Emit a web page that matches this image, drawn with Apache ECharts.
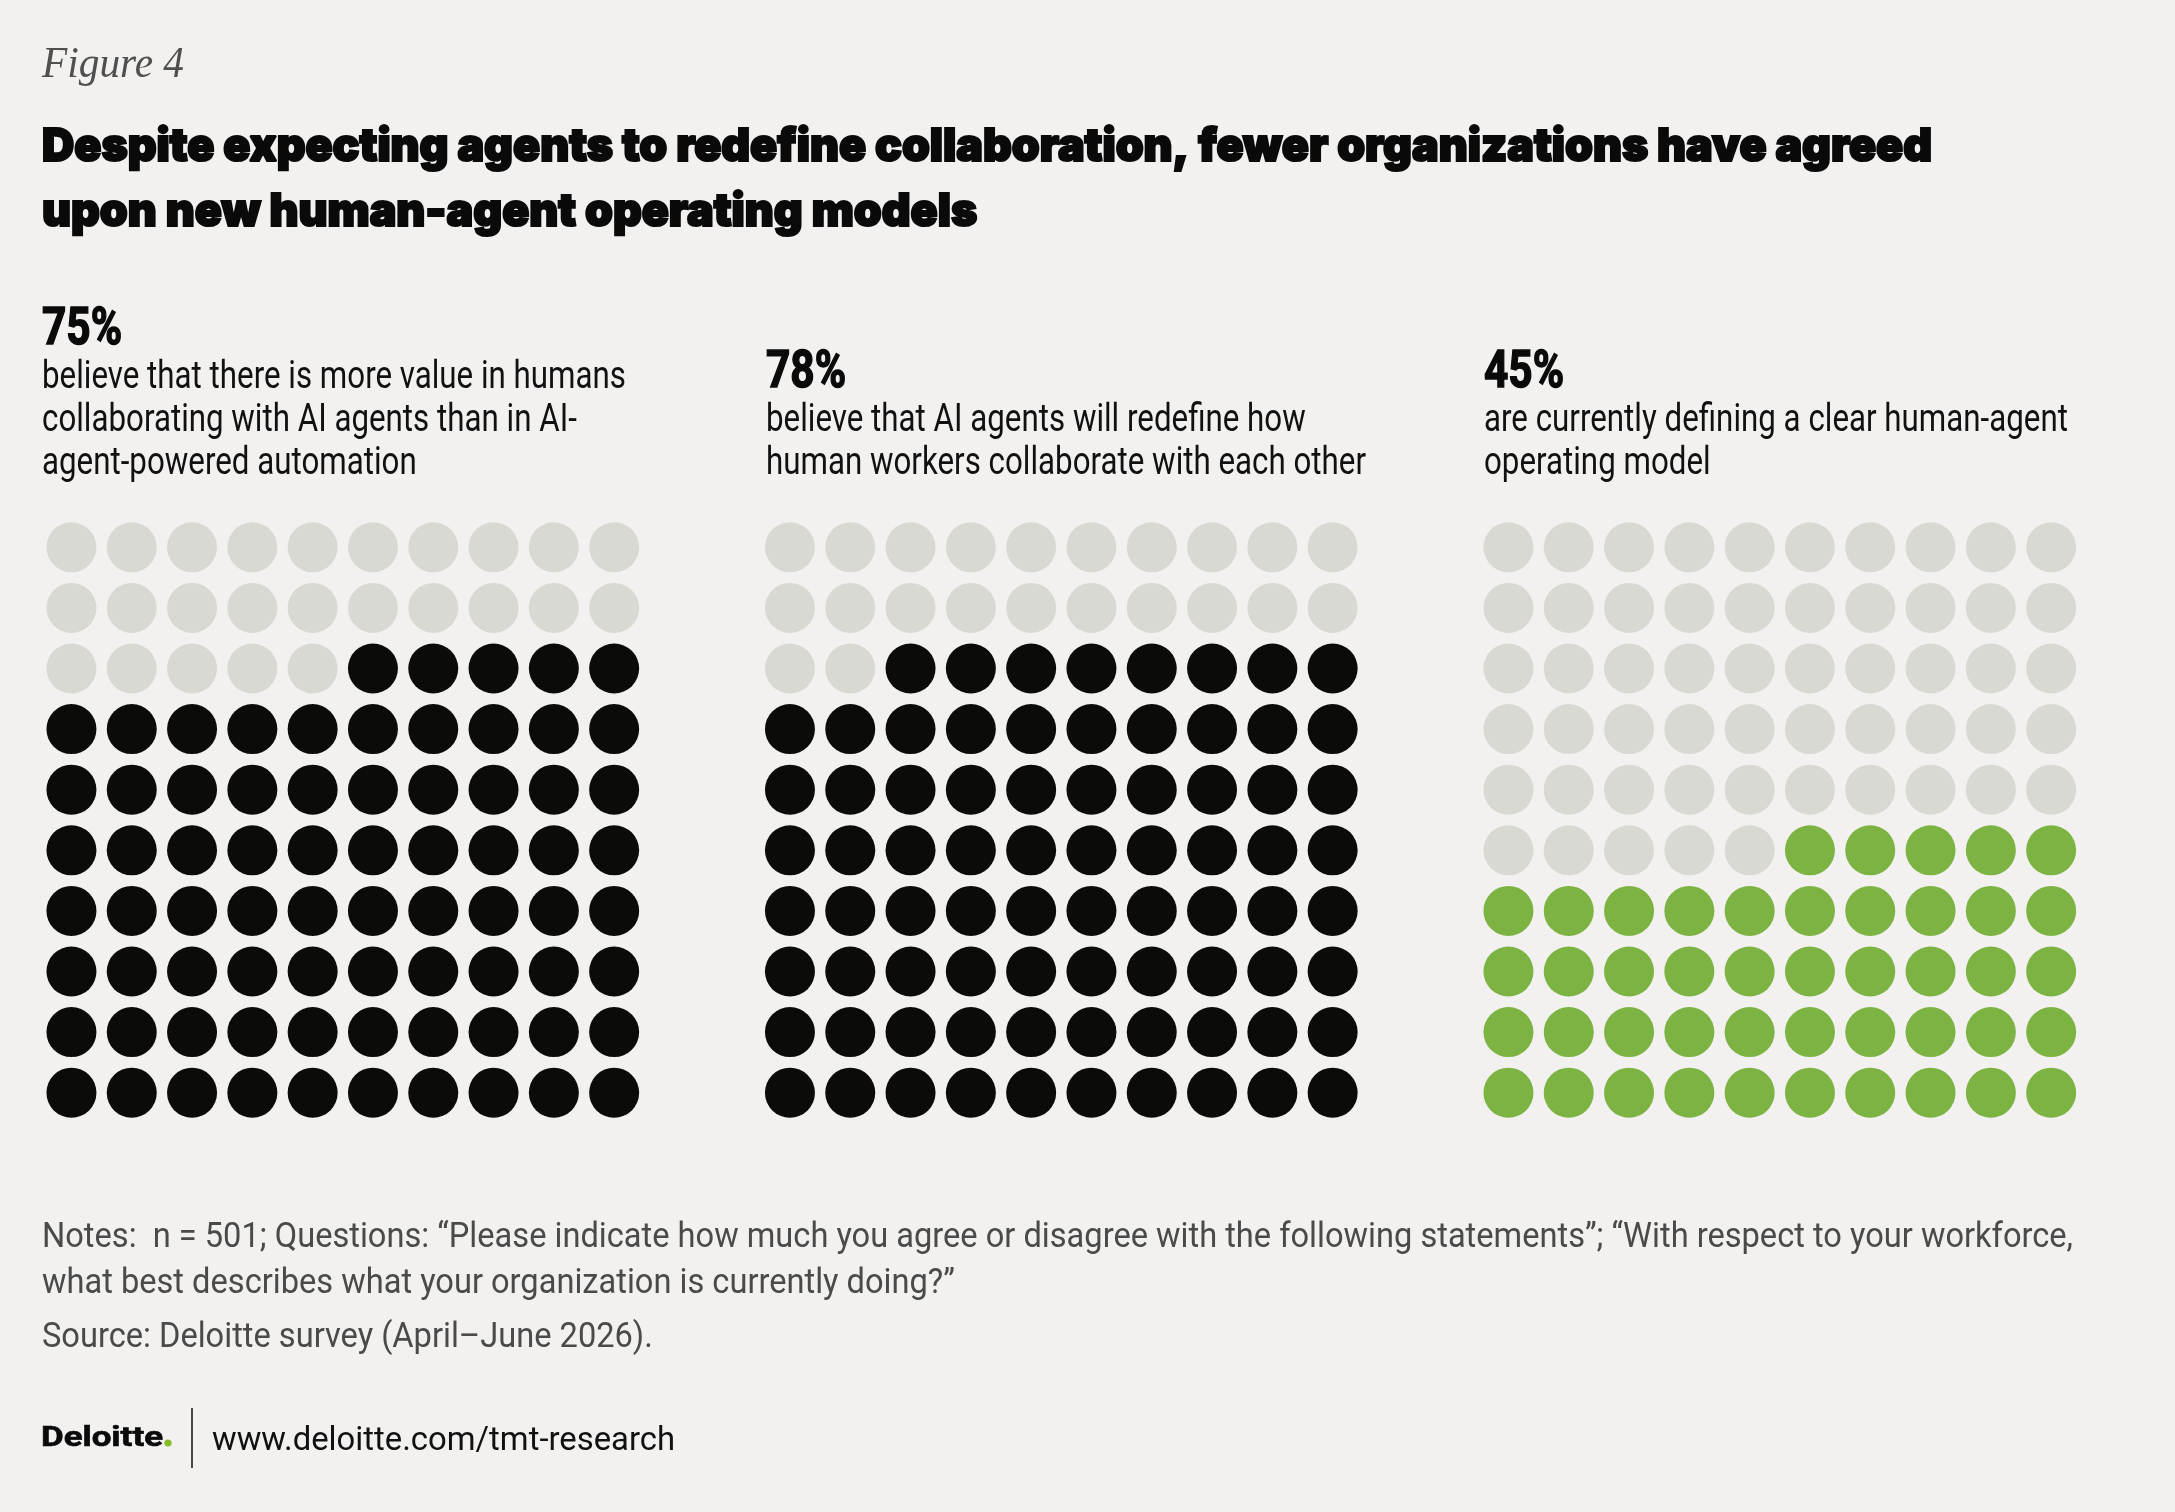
<!DOCTYPE html>
<html>
<head>
<meta charset="utf-8">
<title>Figure 4</title>
<script src="https://cdn.jsdelivr.net/npm/echarts@6.0.0/dist/echarts.min.js"></script>
<style>
  html, body { margin: 0; padding: 0; background: #f2f1ef; }
  #main { width: 2175px; height: 1512px; }
</style>
</head>
<body>
<div id="main"></div>
<script>
// ---- data ----
var percents = [75, 78, 45];
var descriptions = [
  ['believe that there is more value in humans', 'collaborating with AI agents than in AI-', 'agent-powered automation'],
  ['believe that AI agents will redefine how', 'human workers collaborate with each other'],
  ['are currently defining a clear human-agent', 'operating model']
];
var fillColors = ['#0b0b09', '#0b0b09', '#7cb342'];
var emptyColor = '#d9d9d4';
var figureLabel = 'Figure 4';
var titleLines = [
  'Despite expecting agents to redefine collaboration, fewer organizations have agreed',
  'upon new human-agent operating models'
];
var notesLines = [
  'Notes:  n = 501; Questions: \u201cPlease indicate how much you agree or disagree with the following statements\u201d; \u201cWith respect to your workforce,',
  'what best describes what your organization is currently doing?\u201d'
];
var sourceLine = 'Source: Deloitte survey (April\u2013June 2026).';
var logoText = 'Deloitte';
var footerUrl = 'www.deloitte.com/tmt-research';

// ---- text helpers (canvas measure so the condensed look can be matched with scaleX) ----
var ctx = document.createElement('canvas').getContext('2d');
function fitScale(font, text, width) {
  ctx.font = font;
  return width / ctx.measureText(text).width;
}
function midOffset(font) {
  ctx.font = font;
  ctx.textBaseline = 'middle';
  var m = ctx.measureText('H');
  ctx.textBaseline = 'alphabetic';
  return m.actualBoundingBoxDescent;
}
function txt(text, x, baseline, font, color, sx, heavy) {
  var st = { text: text, font: font, fill: color, align: 'left', verticalAlign: 'middle' };
  if (heavy) { st.stroke = color; st.lineWidth = heavy; }
  return { type: 'text', x: x, y: baseline - midOffset(font), scaleX: sx, silent: true, style: st };
}

var FIG_FONT = 'italic 44px "Liberation Serif", serif';
var TITLE_FONT = '900 46px Inter, Roboto, sans-serif';
var PCT_FONT = 'bold 52px Roboto, sans-serif';
var DESC_FONT = '38px Roboto, sans-serif';
var NOTE_FONT = '35px Roboto, sans-serif';
var LOGO_FONT = 'bold 27px Roboto, sans-serif';
var URL_FONT = '34px Roboto, sans-serif';

var sFig = fitScale(FIG_FONT, figureLabel, 142);
var sTitle = fitScale(TITLE_FONT, titleLines[0], 1890);
var sPct = fitScale(PCT_FONT, '75%', 80);
var sDesc = fitScale(DESC_FONT, descriptions[0][0], 584);
var sNote = fitScale(NOTE_FONT, notesLines[0], 2031);
var sLogo = fitScale(LOGO_FONT, logoText, 122);
var sUrl = fitScale(URL_FONT, footerUrl, 463);

var graphics = [];
graphics.push(txt(figureLabel, 42, 77, FIG_FONT, '#4f4f4f', sFig));
graphics.push(txt(titleLines[0], 42, 161, TITLE_FONT, '#0a0a0a', sTitle, 2.2));
graphics.push(txt(titleLines[1], 42, 226, TITLE_FONT, '#0a0a0a', sTitle, 2.2));

var textX = [42, 766, 1484];
var lastBaseline = 474;
percents.forEach(function (p, i) {
  var lines = descriptions[i];
  var firstBase = lastBaseline - (lines.length - 1) * 43;
  graphics.push(txt(p + '%', textX[i], firstBase - 44, PCT_FONT, '#0a0a0a', sPct, 1.5));
  lines.forEach(function (l, j) {
    graphics.push(txt(l, textX[i], firstBase + j * 43, DESC_FONT, '#111111', sDesc));
  });
});

graphics.push(txt(notesLines[0], 42, 1247, NOTE_FONT, '#4a4a4a', sNote));
graphics.push(txt(notesLines[1], 42, 1293, NOTE_FONT, '#4a4a4a', sNote));
graphics.push(txt(sourceLine, 42, 1347, NOTE_FONT, '#4a4a4a', sNote));

graphics.push(txt(logoText, 41, 1446, LOGO_FONT, '#0a0a0a', sLogo, 0.6));
graphics.push({ type: 'circle', silent: true, shape: { cx: 168, cy: 1443, r: 3.6 }, style: { fill: '#86bc25' } });
graphics.push({ type: 'line', silent: true, shape: { x1: 192, y1: 1408, x2: 192, y2: 1468 }, style: { stroke: '#111', lineWidth: 1.5 } });
graphics.push(txt(footerUrl, 212, 1450, URL_FONT, '#111111', sUrl));

// ---- waffle grids ----
var grids = [], xAxes = [], yAxes = [], series = [];
percents.forEach(function (p, i) {
  grids.push({ left: 41.3 + i * 718.5, top: 517, width: 603, height: 606 });
  xAxes.push({ type: 'value', gridIndex: i, min: -0.5, max: 9.5, show: false });
  yAxes.push({ type: 'value', gridIndex: i, min: -0.5, max: 9.5, inverse: true, show: false });
  var on = [], off = [];
  for (var r = 0; r < 10; r++) {
    for (var c = 0; c < 10; c++) {
      var idx = r * 10 + c;
      if (idx >= 100 - p) on.push([c, r]); else off.push([c, r]);
    }
  }
  series.push({ type: 'scatter', xAxisIndex: i, yAxisIndex: i, symbolSize: 50, silent: true,
    itemStyle: { color: emptyColor, opacity: 1 }, data: off });
  series.push({ type: 'scatter', xAxisIndex: i, yAxisIndex: i, symbolSize: 50, silent: true,
    itemStyle: { color: fillColors[i], opacity: 1 }, data: on });
});

var myChart = echarts.init(document.getElementById('main'));
myChart.setOption({
  backgroundColor: '#f2f1ef',
  animation: false,
  grid: grids,
  xAxis: xAxes,
  yAxis: yAxes,
  series: series,
  graphic: graphics
});
</script>
</body>
</html>
